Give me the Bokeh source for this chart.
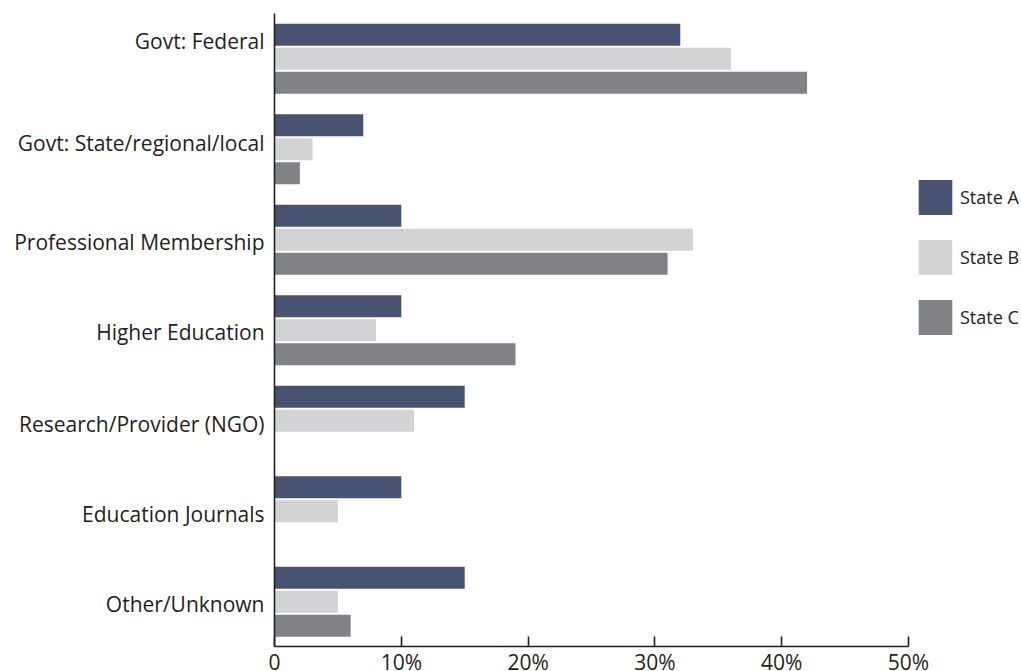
from bokeh.plotting import figure
from bokeh.models import Range1d, FixedTicker, Legend, LegendItem, ColumnDataSource
from bokeh.embed import file_html
from bokeh.resources import INLINE

categories = ["Govt: Federal", "Govt: State/regional/local", "Professional Membership",
              "Higher Education", "Research/Provider (NGO)", "Education Journals", "Other/Unknown"]
state_a = [32, 7, 10, 10, 15, 10, 15]
state_b = [36, 3, 33, 8, 11, 5, 5]
state_c = [42, 2, 31, 19, 0, 0, 6]
series_names = ["State A", "State B", "State C"]
colors = ["#485372", "#d1d3d4", "#808285"]
x_ticks = [0, 10, 20, 30, 40, 50]
x_tick_labels = ["0", "10%", "20%", "30%", "40%", "50%"]
# small vertical nudges of category labels relative to group centres (layout)
label_nudge = [0.2, 0.07, -0.02, -0.02, -0.04, -0.03, -0.03]

FONT = "Open Sans"
n = len(categories)
centers = [n - 1 - i for i in range(n)]
label_pos = [round(c + d, 3) for c, d in zip(centers, label_nudge)]
pitch = 0.265
bar_h = 0.243

# the frame fills the whole canvas; both axes sit at fixed locations with bounds
p = figure(width=1021, height=671, output_backend="svg", toolbar_location=None,
           x_range=Range1d(-21.61, 58.91), y_range=Range1d(-0.771, 6.644),
           min_border_left=0, min_border_right=0, min_border_top=0, min_border_bottom=0)
p.outline_line_color = None
p.grid.visible = False
p.background_fill_color = "white"

renderers = []
for k, (vals, col) in enumerate(zip([state_a, state_b, state_c], colors)):
    ys = [c + (1 - k) * pitch for c in centers]
    src = ColumnDataSource(dict(y=ys, right=vals))
    r = p.hbar(y="y", right="right", left=0, height=bar_h, source=src,
               fill_color=col, line_color=None)
    renderers.append(r)

xa = p.xaxis[0]
xa.fixed_location = -0.5
xa.bounds = (0, 50)
xa.ticker = FixedTicker(ticks=x_ticks)
xa.major_label_overrides = {t: l for t, l in zip(x_ticks, x_tick_labels)}
xa.major_tick_in = 10
xa.major_tick_out = 0
xa.minor_tick_line_color = None
xa.axis_line_color = "#231f20"
xa.axis_line_width = 1.6
xa.major_tick_line_color = "#231f20"
xa.major_tick_line_width = 1.6
xa.major_label_text_font = FONT
xa.major_label_text_font_size = "21px"
xa.major_label_text_color = "#231f20"
xa.major_label_standoff = 1

ya = p.yaxis[0]
ya.fixed_location = 0
ya.bounds = (-0.5, n - 0.5)
ya.ticker = FixedTicker(ticks=label_pos)
ya.major_label_overrides = {lp: cat for lp, cat in zip(label_pos, categories)}
ya.major_tick_in = 0
ya.major_tick_out = 0
ya.minor_tick_line_color = None
ya.axis_line_color = "#231f20"
ya.axis_line_width = 1.6
ya.major_label_text_font = FONT
ya.major_label_text_font_size = "21px"
ya.major_label_text_color = "#231f20"
ya.major_label_standoff = 10

legend = Legend(items=[LegendItem(label=nm, renderers=[r]) for nm, r in zip(series_names, renderers)],
                location=(914, 332), orientation="vertical",
                glyph_width=42, glyph_height=44, spacing=16, label_standoff=4,
                label_text_font=FONT, label_text_font_size="18px", label_text_color="#231f20",
                padding=0, margin=0, border_line_color=None, background_fill_alpha=0)
p.add_layout(legend, "center")

open("out.html", "w").write(file_html(p, INLINE))
